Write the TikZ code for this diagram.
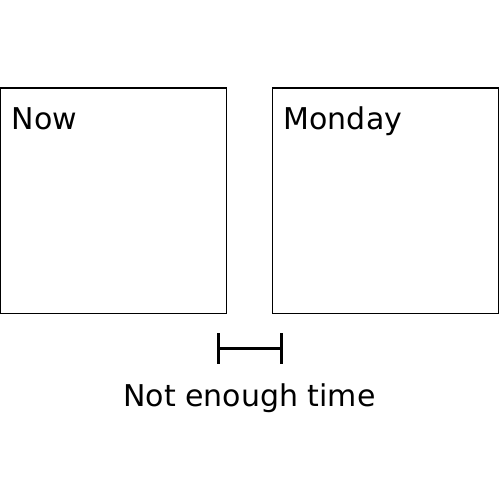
\documentclass[tikz,border=0pt]{standalone}
\usepackage{fontspec}
\setmainfont{DejaVu Sans}
\begin{document}
\begin{tikzpicture}[x=1bp,y=-1bp,
  panel/.style={draw=black,line width=1.5bp,minimum width=226bp,minimum height=225.7bp,inner sep=0pt,outer sep=0pt},
  lbl/.style={font=\fontsize{30bp}{35bp}\selectfont,inner sep=0pt,anchor=base west},
  brk/.style={line width=3bp}]
\useasboundingbox (0,0) rectangle (500,500);
\node[panel,anchor=north west] (now) at (0.7,88) {};
\node[panel,anchor=north west] (mon) at (272.3,88) {};
\node[lbl] (nowt) at (11.5,129.5) {Now};
\node[lbl] (mont) at (283.5,129.5) {Monday};
\coordinate (a1) at (218.2,333.3);
\coordinate (a2) at (218.2,363.7);
\coordinate (b1) at (281.8,333.3);
\coordinate (b2) at (281.8,363.7);
\coordinate (am) at (218.2,348.5);
\coordinate (bm) at (281.8,348.5);
\draw[brk] (a1) -- (a2);
\draw[brk] (b1) -- (b2);
\draw[brk] (am) -- (bm);
\node[lbl,anchor=base] (gap) at (249.5,406) {Not enough time};
\end{tikzpicture}
\end{document}
